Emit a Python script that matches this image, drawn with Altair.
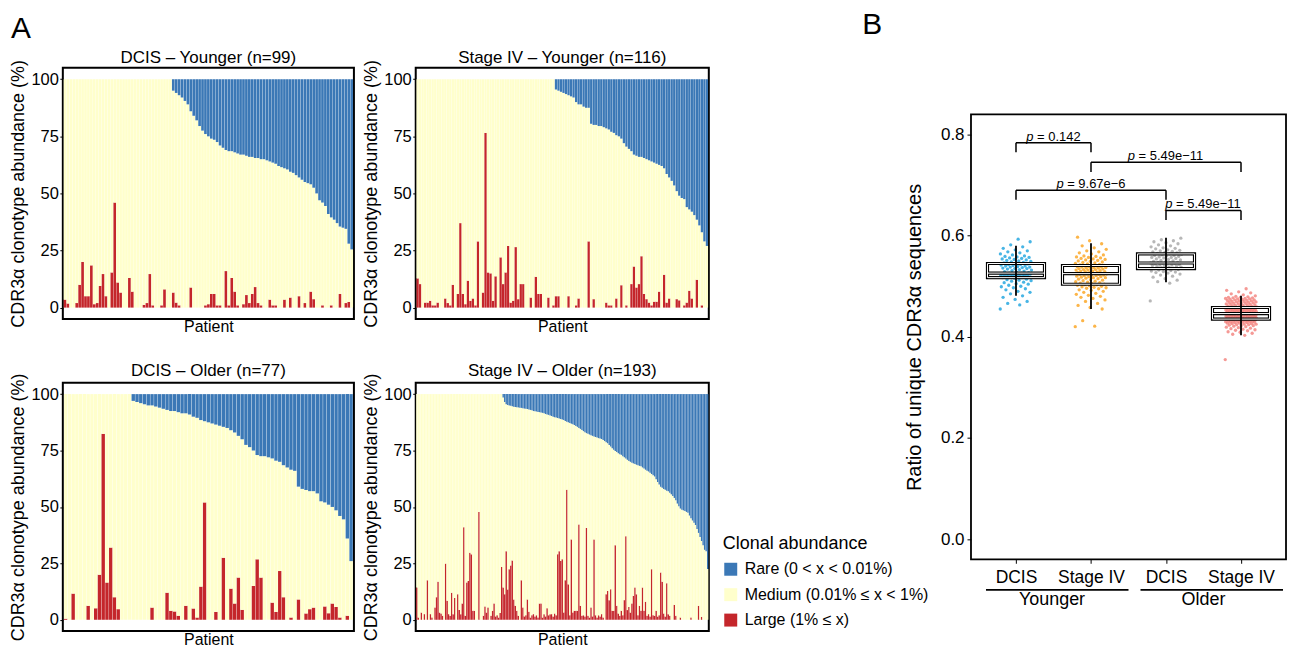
import altair as alt
import pandas as pd

# ---------------- Panel A data ----------------
ABUND_CATS = ["Rare (0 < x < 0.01%)", "Medium (0.01% ≤ x < 1%)", "Large (1% ≤ x)"]
ABUND_COLORS = ["#3B78B6", "#FFFFCC", "#C4262B"]

PANEL_TITLES = ["DCIS – Younger (n=99)", "Stage IV – Younger (n=116)",
                "DCIS – Older (n=77)", "Stage IV – Older (n=193)"]

# upper edge of the "Medium" segment (= 100 - Rare share), per patient
top_dcis_young = [100] * 37 + [
    95, 94, 93, 92, 90.5, 89, 86, 84, 82, 79.5,
    77.5, 76, 75, 74, 73.5, 72.5, 71, 70, 69, 68.5,
    68.5, 68, 67.5, 67, 67, 66.5, 66, 66, 65.5, 65.5,
    65, 65, 64.5, 64, 63.5, 63, 62, 61.5, 61, 60.5,
    59.5, 59, 58, 57, 56, 55, 54.5, 54, 52.5, 50,
    47, 46, 44.5, 41, 39.5, 38.5, 37, 35.5, 35, 34.5,
    28, 25.5]
large_dcis_young = [
    3.5, 1.8, 0, 0, 2, 10, 20, 5, 5, 18.5,
    1.5, 2, 9.5, 14.7, 5, 0, 15.4, 46, 11, 6.6,
    0, 0, 13, 7, 0, 0, 0, 1.2, 2, 14.7,
    1, 0, 0, 1, 8, 0, 0, 6.6, 2.2, 1,
    0, 0, 0, 8.8, 0, 0, 0, 0, 1, 1.5,
    6, 6, 1, 1, 0, 16, 1, 13, 7, 1,
    0, 1.5, 5.5, 2, 6, 9, 2, 1, 0, 0,
    3.5, 1, 1, 0, 0, 3.5, 0, 4.4, 0, 0,
    5, 0, 2, 0, 7, 3.7, 0, 0, 1, 0,
    0, 1, 0, 0, 6, 0, 2, 2.5, 0]

top_stage4_young = [100] * 55 + [
    95.5, 95, 94.5, 94, 93.5, 93, 92.5, 92, 90, 89,
    89, 88, 87.5, 87.5, 80.5, 80, 80, 79.5, 79.5, 79,
    78.5, 78, 77, 76.5, 75.5, 75, 74, 72, 70.5, 69.5,
    68.5, 67, 66.5, 66, 66, 65.5, 65, 64.5, 64, 63.5,
    63, 62.5, 62, 61, 58.5, 57, 55.5, 53.5, 51, 49,
    48, 47.5, 44, 43, 42, 40.5, 38.5, 36, 33, 29,
    27]
large_stage4_young = [
    12.8, 10.3, 0, 2.2, 2.2, 3, 1, 1, 2.2, 0,
    0, 4, 2, 1, 10, 0, 6, 37, 6, 1.5,
    11.8, 3, 4, 1, 29, 0, 6.6, 76.5, 15.4, 15,
    3, 13.7, 0, 22, 10.3, 15.4, 27, 2.2, 3, 26.5,
    3.7, 10.3, 10.3, 0, 0, 4.4, 0, 13.5, 6, 6,
    0, 0, 4.4, 0, 1, 5, 5, 0, 0, 0,
    5, 0, 0, 1, 4, 0, 0, 0, 29, 0,
    3.7, 0, 0, 0, 0, 2.2, 1, 1, 0, 4,
    0, 9.8, 0, 1, 0, 10.3, 18, 8.8, 10.3, 22.5,
    6, 3.7, 2.2, 1, 2.6, 2.6, 7, 0, 14.4, 2.2,
    4, 0, 0, 3.7, 3.2, 0, 1, 2.2, 7.4, 4,
    0, 12.2, 0, 1, 0, 0]

top_dcis_old = [100] * 18 + [
    97, 96.5, 96, 95.5, 95, 95, 94.5, 94, 93.5, 93,
    92.5, 92.5, 92, 91.5, 91.5, 91, 90, 89.5, 88.5, 88,
    87.5, 87, 86.5, 86, 85.5, 85, 84, 83, 81.5, 80,
    77.5, 76.5, 75, 73, 72.5, 72.5, 72, 71.5, 70.5, 70,
    68.5, 67.5, 66.5, 66, 59, 58, 57.5, 57, 57, 56,
    52.5, 52, 51, 50, 48.5, 46, 44.5, 36, 26]
large_dcis_old = [
    0.5, 0, 11.6, 0, 0, 0, 6.2, 0, 5.1, 20,
    82.4, 16.5, 32, 10, 4.7, 0, 0, 0, 0, 0,
    0, 0, 0, 5.4, 0, 0, 0, 12, 4, 3.7,
    1.8, 0, 6.2, 0, 5, 1, 14.7, 52, 0, 0,
    3.5, 0, 27.5, 0, 13.8, 7.2, 18.7, 4.4, 0, 0,
    15, 26.8, 18.7, 0, 0, 7.6, 3.5, 21.6, 10, 0,
    1, 0, 9, 0, 2.8, 4.7, 5.4, 0, 0, 5.9,
    2.9, 7.2, 5.7, 1, 0, 1.8, 0]

top_stage4_old = [100] * 57 + [
    98.5, 96.5, 95.5, 95.2, 95, 94.8, 94.6, 94.4, 94.3, 94.2,
    94.1, 94, 93.9, 93.7, 93.6, 93.5, 93.4, 93.2, 93, 92.8,
    92.5, 92.4, 92.3, 92.1, 92, 91.9, 91.7, 91.5, 91.2, 91,
    90.8, 90.5, 90.3, 90, 89.8, 89.6, 89.4, 89.2, 89, 88.8,
    88.5, 88.1, 87.8, 87.5, 87.2, 86.9, 86.6, 86.3, 85.9, 85.5,
    85, 84.6, 84.1, 83.6, 83.1, 82.7, 82.4, 82.1, 81.8, 81.5,
    81.2, 81, 80.8, 80.5, 80.3, 80.1, 79.7, 79.2, 78.7, 78.2,
    77.5, 76.8, 76, 75.3, 74.8, 74.3, 73.8, 73.4, 73.1, 72.5,
    72, 71.5, 70.9, 70.4, 70, 69.6, 69.3, 69, 68.7, 68.5,
    68.2, 68, 67.5, 67, 66.5, 66, 65.7, 65.2, 64.6, 64,
    63.5, 62.3, 61, 60, 59, 58.5, 58, 57.6, 57.2, 56.9,
    56.3, 55.6, 54.8, 54, 53, 51.5, 50.3, 49.3, 48.8, 48.5,
    48.2, 47.8, 47.4, 46.2, 45, 44, 43, 42, 40.2, 38.5,
    36.7, 34.9, 33, 31, 30.4, 22.5]
large_stage4_old = [
    14.3, 1, 0, 3.2, 0, 2.5, 0, 17.5, 0, 2.5,
    1, 0, 5.4, 10, 16.8, 3.2, 2.8, 1.8, 0, 24.9,
    8.4, 2.5, 1.8, 12, 2.5, 9.6, 0, 11.3, 4.3, 2.5,
    7.2, 41, 1.8, 16.5, 17.2, 29.7, 29, 4, 4, 0,
    0, 47.8, 0, 0, 1.8, 5.9, 3.2, 5.4, 0, 1.8,
    4, 7.2, 1.5, 2, 1, 3, 23.4, 14.3, 11.3, 30.4,
    13.4, 22.4, 24, 26.3, 9, 6.2, 4, 1.8, 0, 17.5,
    5.4, 1.5, 2, 9, 3.5, 1, 2, 2.5, 1.5, 2,
    1, 7.2, 7.2, 1, 2.5, 1.5, 5.1, 2, 2.5, 2.5,
    1.5, 2.8, 2, 29, 30.4, 26, 26.8, 3.2, 17.5, 57.6,
    15.7, 2, 35.6, 3.2, 4, 4, 4, 42.2, 6.2, 1.8,
    2, 1.5, 40.7, 1.8, 1, 5.4, 1.5, 35.6, 2, 1,
    2, 1.5, 2.5, 1, 0, 11.3, 12.8, 8.7, 13.5, 4,
    4, 33, 6.2, 2.8, 1.8, 4, 2, 8.7, 37, 4.3,
    5.7, 3.2, 7.2, 10.6, 14.3, 11.3, 2, 6.2, 4, 14.3,
    4, 8, 1.8, 2.5, 1.5, 22.4, 2, 1.8, 4, 1.5,
    2, 20.9, 16.8, 2.8, 1.5, 16.2, 2.5, 1.8, 0, 0,
    6.6, 1.8, 0, 0, 1, 0, 0, 0, 0, 0,
    0, 1, 0, 0, 0, 0, 6.2, 0, 1.3, 0,
    0, 0, 0]

# ---------------- Panel B data ----------------
GROUP_NAMES = ["DCIS Younger", "Stage IV Younger", "DCIS Older", "Stage IV Older"]
GROUP_COLORS = ["#1AA2DF", "#FBA31B", "#A5A5A5", "#F37F7B"]
X_LABELS = ["DCIS", "Stage IV", "DCIS", "Stage IV"]
AGE_LABELS = ["Younger", "Older"]

vals_dcis_young = [
    0.455, 0.463, 0.466, 0.470, 0.474, 0.478, 0.481, 0.485, 0.488, 0.490,
    0.493, 0.495, 0.497, 0.499, 0.500, 0.502, 0.504, 0.505, 0.507, 0.508,
    0.510, 0.511, 0.512, 0.513, 0.514,
    0.516, 0.517, 0.517, 0.518, 0.518, 0.519, 0.519, 0.520, 0.520, 0.521,
    0.521, 0.522, 0.522, 0.522, 0.523, 0.523, 0.523, 0.524, 0.524, 0.524,
    0.525, 0.525, 0.525, 0.526, 0.526,
    0.527, 0.528, 0.529, 0.530, 0.531, 0.532, 0.533, 0.534, 0.535, 0.535,
    0.536, 0.537, 0.538, 0.538, 0.539, 0.540, 0.540, 0.541, 0.542, 0.543,
    0.543, 0.544, 0.545, 0.546,
    0.547, 0.548, 0.549, 0.550, 0.551, 0.552, 0.553, 0.554, 0.555, 0.556,
    0.557, 0.558, 0.559, 0.560, 0.562, 0.564, 0.566, 0.568, 0.570, 0.572,
    0.575, 0.578, 0.582, 0.588, 0.593]
vals_stage4_young = [
    0.420, 0.421, 0.432, 0.455, 0.458, 0.462, 0.466, 0.470, 0.473, 0.476,
    0.478, 0.480, 0.482, 0.484, 0.486, 0.488, 0.490, 0.492, 0.493, 0.495,
    0.496, 0.497, 0.498, 0.499, 0.500, 0.501, 0.502, 0.503, 0.503,
    0.504, 0.505, 0.506, 0.507, 0.508, 0.509, 0.510, 0.511, 0.512, 0.513,
    0.514, 0.515, 0.516, 0.517, 0.517, 0.518, 0.519, 0.519, 0.520, 0.521,
    0.521, 0.522, 0.522, 0.523, 0.523, 0.524, 0.524, 0.525, 0.525,
    0.526, 0.527, 0.527, 0.528, 0.529, 0.529, 0.530, 0.530, 0.531, 0.532,
    0.532, 0.533, 0.533, 0.534, 0.535, 0.535, 0.536, 0.536, 0.537, 0.537,
    0.538, 0.538, 0.539, 0.539, 0.540, 0.540, 0.541, 0.541, 0.542,
    0.543, 0.544, 0.545, 0.546, 0.547, 0.548, 0.549, 0.550, 0.551, 0.552,
    0.553, 0.554, 0.555, 0.556, 0.557, 0.558, 0.559, 0.560, 0.562, 0.564,
    0.566, 0.568, 0.570, 0.573, 0.576, 0.580, 0.584, 0.590, 0.597]
vals_dcis_old = [
    0.471, 0.506, 0.509, 0.512, 0.515, 0.518, 0.520, 0.522, 0.524, 0.526,
    0.527, 0.528, 0.529, 0.530, 0.531, 0.532, 0.533, 0.534, 0.535,
    0.536, 0.537, 0.538, 0.538, 0.539, 0.540, 0.540, 0.541, 0.542, 0.542,
    0.543, 0.544, 0.544, 0.545, 0.545, 0.546, 0.546, 0.547, 0.547,
    0.548, 0.549, 0.550, 0.551, 0.552, 0.553, 0.554, 0.555, 0.556, 0.557,
    0.557, 0.558, 0.559, 0.560, 0.561, 0.561, 0.562, 0.563, 0.564,
    0.565, 0.566, 0.567, 0.568, 0.569, 0.570, 0.571, 0.572, 0.574, 0.575,
    0.576, 0.578, 0.580, 0.582, 0.584, 0.586, 0.588, 0.590, 0.592, 0.595]
vals_stage4_old = [
    0.355, 0.403, 0.405, 0.407, 0.409, 0.410, 0.412, 0.413, 0.414, 0.415,
    0.416, 0.417, 0.418, 0.419, 0.420, 0.421, 0.422, 0.422, 0.423, 0.424,
    0.424, 0.425, 0.425, 0.426, 0.426, 0.427, 0.427, 0.428, 0.428, 0.429,
    0.429, 0.429, 0.430, 0.430, 0.430, 0.431, 0.431, 0.431, 0.432, 0.432,
    0.432, 0.433, 0.433, 0.433, 0.434, 0.434, 0.434, 0.435,
    0.435, 0.435, 0.436, 0.436, 0.436, 0.437, 0.437, 0.437, 0.437, 0.438,
    0.438, 0.438, 0.438, 0.439, 0.439, 0.439, 0.439, 0.440, 0.440, 0.440,
    0.440, 0.441, 0.441, 0.441, 0.441, 0.442, 0.442, 0.442, 0.442, 0.443,
    0.443, 0.443, 0.443, 0.443, 0.444, 0.444, 0.444, 0.444, 0.444, 0.445,
    0.445, 0.445, 0.445, 0.445, 0.446, 0.446, 0.446, 0.446,
    0.447, 0.447, 0.447, 0.447, 0.448, 0.448, 0.448, 0.448, 0.449, 0.449,
    0.449, 0.449, 0.450, 0.450, 0.450, 0.450, 0.451, 0.451, 0.451, 0.451,
    0.452, 0.452, 0.452, 0.452, 0.453, 0.453, 0.453, 0.453, 0.454, 0.454,
    0.454, 0.454, 0.455, 0.455, 0.455, 0.455, 0.456, 0.456, 0.456, 0.456,
    0.457, 0.457, 0.457, 0.457, 0.458, 0.458, 0.458, 0.458,
    0.459, 0.459, 0.460, 0.460, 0.461, 0.461, 0.462, 0.462, 0.463, 0.463,
    0.464, 0.464, 0.465, 0.465, 0.466, 0.466, 0.467, 0.467, 0.468, 0.468,
    0.469, 0.469, 0.470, 0.470, 0.471, 0.471, 0.472, 0.472, 0.473, 0.473,
    0.474, 0.474, 0.475, 0.475, 0.476, 0.476, 0.477, 0.477, 0.478, 0.478,
    0.479, 0.480, 0.481, 0.483, 0.485, 0.487, 0.489, 0.492, 0.495]

# box-plot statistics
box_q1 = [0.517, 0.504, 0.535, 0.435]
box_med = [0.526, 0.525, 0.546, 0.446]
box_q3 = [0.545, 0.541, 0.564, 0.458]
whisk_lo = [0.481, 0.455, 0.508, 0.403]
whisk_hi = [0.580, 0.585, 0.596, 0.481]

# significance brackets: (left group, right group, bar height, p label)
bracket_left = [1, 2, 1, 3]
bracket_right = [2, 4, 3, 4]
bracket_y = [0.784, 0.745, 0.690, 0.650]
bracket_p = ["0.142", "5.49e−11", "9.67e−6", "5.49e−11"]

# ---------------- build tables ----------------
def panel_frame(top, large):
    rows = []
    for i, (t, l) in enumerate(zip(top, large)):
        for cat, a, b in ((ABUND_CATS[2], 0, l), (ABUND_CATS[1], l, t), (ABUND_CATS[0], t, 100)):
            if b > a:
                rows.append({"patient": i, "cat": cat, "y0": a, "y1": b})
    return pd.DataFrame(rows)


def bar_panel(df, title, w, h):
    return alt.Chart(df).mark_bar().encode(
        x=alt.X("patient:O",
                scale=alt.Scale(paddingInner=0.1, paddingOuter=0.3),
                axis=alt.Axis(title="Patient", labels=False, ticks=False, domain=False,
                              titleFontSize=16, titlePadding=0)),
        y=alt.Y("y0:Q", scale=alt.Scale(domain=[-5, 105], nice=False, zero=False),
                axis=alt.Axis(values=[0, 25, 50, 75, 100], title="CDR3α clonotype abundance (%)",
                              titleFontSize=18, labelFontSize=16.5, tickSize=3,
                              labelPadding=1.5, titlePadding=3, grid=False, domain=False)),
        y2="y1:Q",
        color=alt.Color("cat:N", scale=alt.Scale(domain=ABUND_CATS, range=ABUND_COLORS), legend=None),
    ).properties(width=w, height=h,
                 title=alt.TitleParams(title, fontSize=17, fontWeight="normal", offset=-7))


p1 = bar_panel(panel_frame(top_dcis_young, large_dcis_young), PANEL_TITLES[0], 292, 252)
p2 = bar_panel(panel_frame(top_stage4_young, large_stage4_young), PANEL_TITLES[1], 294, 252)
p3 = bar_panel(panel_frame(top_dcis_old, large_dcis_old), PANEL_TITLES[2], 292, 249)
p4 = bar_panel(panel_frame(top_stage4_old, large_stage4_old), PANEL_TITLES[3], 294, 249)

row1 = alt.hconcat(p1, p2, spacing=62, bounds="flush")
row2 = alt.hconcat(p3, p4, spacing=62, bounds="flush")
left = alt.vconcat(row1, row2, spacing=25,
                   title=alt.TitleParams("A", anchor="start", fontSize=30, fontWeight="normal",
                                         dx=2, offset=4))

# ---- panel B ----
B_W = 316
B_H = 493               # plot area from the level of panel A's frames down to B's x axis
X_DOMAIN = [0.4, 4.6]
Y_BOTTOM, Y_FRAME_TOP, Y_TOP = -0.04, 0.84, 0.932
PX_PER_UNIT = B_W / (X_DOMAIN[1] - X_DOMAIN[0])
JITTER = 0.21

all_vals = [vals_dcis_young, vals_stage4_young, vals_dcis_old, vals_stage4_old]
pts_rows = []
for g, vals in enumerate(all_vals):
    for k, v in enumerate(vals):
        off = ((k * 0.6180339887) % 1.0 - 0.5) * 2 * JITTER
        pts_rows.append({"group": GROUP_NAMES[g], "x": g + 1 + off, "value": v})
pts = pd.DataFrame(pts_rows)

BOX_HALF = 0.38
box = pd.DataFrame({
    "g": [1, 2, 3, 4],
    "x1": [g - BOX_HALF for g in [1, 2, 3, 4]],
    "x2": [g + BOX_HALF for g in [1, 2, 3, 4]],
    "q1": box_q1, "med": box_med, "q3": box_q3, "wlo": whisk_lo, "whi": whisk_hi,
})

TICK_DROP = 0.019
seg_rows = []
for a, b, y in zip(bracket_left, bracket_right, bracket_y):
    seg_rows.append({"xa": a, "xb": b, "ya": y, "yb": y})
    seg_rows.append({"xa": a, "xb": a, "ya": y, "yb": y - TICK_DROP})
    seg_rows.append({"xa": b, "xb": b, "ya": y, "yb": y - TICK_DROP})
segs = pd.DataFrame(seg_rows)

P_FS = 13
CW = {"p": .556, " ": .278, "=": .584, ".": .278, "e": .556, "−": .584}


def text_w(s):
    return sum(CW.get(c, .556) for c in s) * P_FS


p_rows = []
for a, b, y, lab in zip(bracket_left, bracket_right, bracket_y, bracket_p):
    full = "p = " + lab
    anchor = (a + b) / 2 - (text_w(full) / 2 - text_w("p")) / PX_PER_UNIT
    p_rows.append({"anchor": anchor, "y": y, "rest": "= " + lab})
pdf = pd.DataFrame(p_rows)

under = pd.DataFrame({"xa": [0.6, 2.66], "xb": [2.5, 4.56], "y": [-0.1005, -0.1005]})
ages = pd.DataFrame({"x": [1.48, 3.5], "y": [-0.131, -0.131], "label": AGE_LABELS})
frame = pd.DataFrame({"x1": [X_DOMAIN[0]], "x2": [X_DOMAIN[1]], "y1": [Y_BOTTOM], "y2": [Y_FRAME_TOP]})

xscale = alt.Scale(domain=X_DOMAIN, nice=False, zero=False)
yscale = alt.Scale(domain=[Y_BOTTOM, Y_TOP], nice=False, zero=False)
label_expr = "[''," + ",".join("'" + s + "'" for s in X_LABELS) + "][datum.value]"
xaxis = alt.Axis(values=[1, 2, 3, 4], labelExpr=label_expr, title=None, tickSize=4,
                 labelPadding=5, labelFontSize=17.5, grid=False, domain=False)
yaxis = alt.Axis(values=[0, 0.2, 0.4, 0.6, 0.8], format=".1f",
                 title="Ratio of unique CDR3α sequences", titleFontSize=20, titleY=270,
                 labelFontSize=17, tickSize=4, labelPadding=3, titlePadding=16,
                 grid=False, domain=False)


def X(f):
    return alt.X(f, type="quantitative", scale=xscale, axis=xaxis)


def Y(f):
    return alt.Y(f, type="quantitative", scale=yscale, axis=yaxis)


points = alt.Chart(pts).mark_circle(size=11, opacity=0.8).encode(
    x=X("x"), y=Y("value"),
    color=alt.Color("group:N", scale=alt.Scale(domain=GROUP_NAMES, range=GROUP_COLORS), legend=None))
box_black = alt.Chart(box).mark_rect(fillOpacity=0, stroke="black", strokeWidth=3.2).encode(
    x=X("x1"), x2="x2", y=Y("q1"), y2="q3")
med_black = alt.Chart(box).mark_rule(color="black", strokeWidth=3.2).encode(
    x=X("x1"), x2="x2", y=Y("med"))
box_white = alt.Chart(box).mark_rect(fillOpacity=0, stroke="white", strokeWidth=1).encode(
    x=X("x1"), x2="x2", y=Y("q1"), y2="q3")
med_white = alt.Chart(box).mark_rule(color="white", strokeWidth=1).encode(
    x=X("x1"), x2="x2", y=Y("med"))
whisk = alt.Chart(box).mark_rule(color="black", strokeWidth=1.8).encode(
    x=X("g"), y=Y("wlo"), y2="whi")
brk = alt.Chart(segs).mark_rule(color="black", strokeWidth=1.5).encode(
    x=X("xa"), x2="xb", y=Y("ya"), y2="yb")
p_it = alt.Chart(pdf).mark_text(text="p", fontStyle="italic", align="right", baseline="alphabetic",
                                fontSize=P_FS, dy=-2, color="black").encode(x=X("anchor"), y=Y("y"))
p_rest = alt.Chart(pdf).mark_text(align="left", baseline="alphabetic", fontSize=P_FS, dx=3.6, dy=-2,
                                  color="black").encode(x=X("anchor"), y=Y("y"), text="rest:N")
under_l = alt.Chart(under).mark_rule(color="black", strokeWidth=1.8).encode(
    x=X("xa"), x2="xb", y=Y("y"))
age_t = alt.Chart(ages).mark_text(fontSize=18, baseline="alphabetic", color="black").encode(
    x=X("x"), y=Y("y"), text="label:N")
frame_r = alt.Chart(frame).mark_rect(fillOpacity=0, stroke="black", strokeWidth=1.8).encode(
    x=X("x1"), x2="x2", y=Y("y1"), y2="y2")
carrier = alt.Chart(pd.DataFrame({"cat": ABUND_CATS})).mark_square(opacity=0).encode(
    fill=alt.Fill("cat:N", scale=alt.Scale(domain=ABUND_CATS, range=ABUND_COLORS),
                  legend=alt.Legend(title="Clonal abundance", orient="none", legendX=-249, legendY=469,
                                    titleFontSize=18, titleFontWeight="normal", labelFontSize=16,
                                    symbolType="square", symbolSize=169, symbolStrokeWidth=0,
                                    symbolOpacity=1, rowPadding=9.5, titlePadding=8, labelOffset=6,
                                    padding=0, titleColor="black", labelColor="black",
                                    labelLimit=400)))

panel_b = alt.layer(points, box_black, med_black, box_white, med_white, whisk, brk, p_it, p_rest,
                    under_l, age_t, frame_r, carrier).properties(
    width=B_W, height=B_H,
    view=alt.ViewBackground(stroke="transparent"),
    title=alt.TitleParams("B", anchor="start", frame="group", dx=-109, fontSize=30,
                          fontWeight="normal", offset=28))

chart = alt.hconcat(left, panel_b, spacing=12).resolve_scale(
    color="independent", fill="independent"
).properties(padding=0).configure(font="Liberation Sans").configure_view(
    stroke="black", strokeWidth=2
).configure_axis(
    tickColor="black", labelColor="black", titleColor="black", titleFontWeight="normal"
).configure_title(color="black", fontWeight="normal")

chart.save("out.html", embed_options={"renderer": "svg", "actions": False})
